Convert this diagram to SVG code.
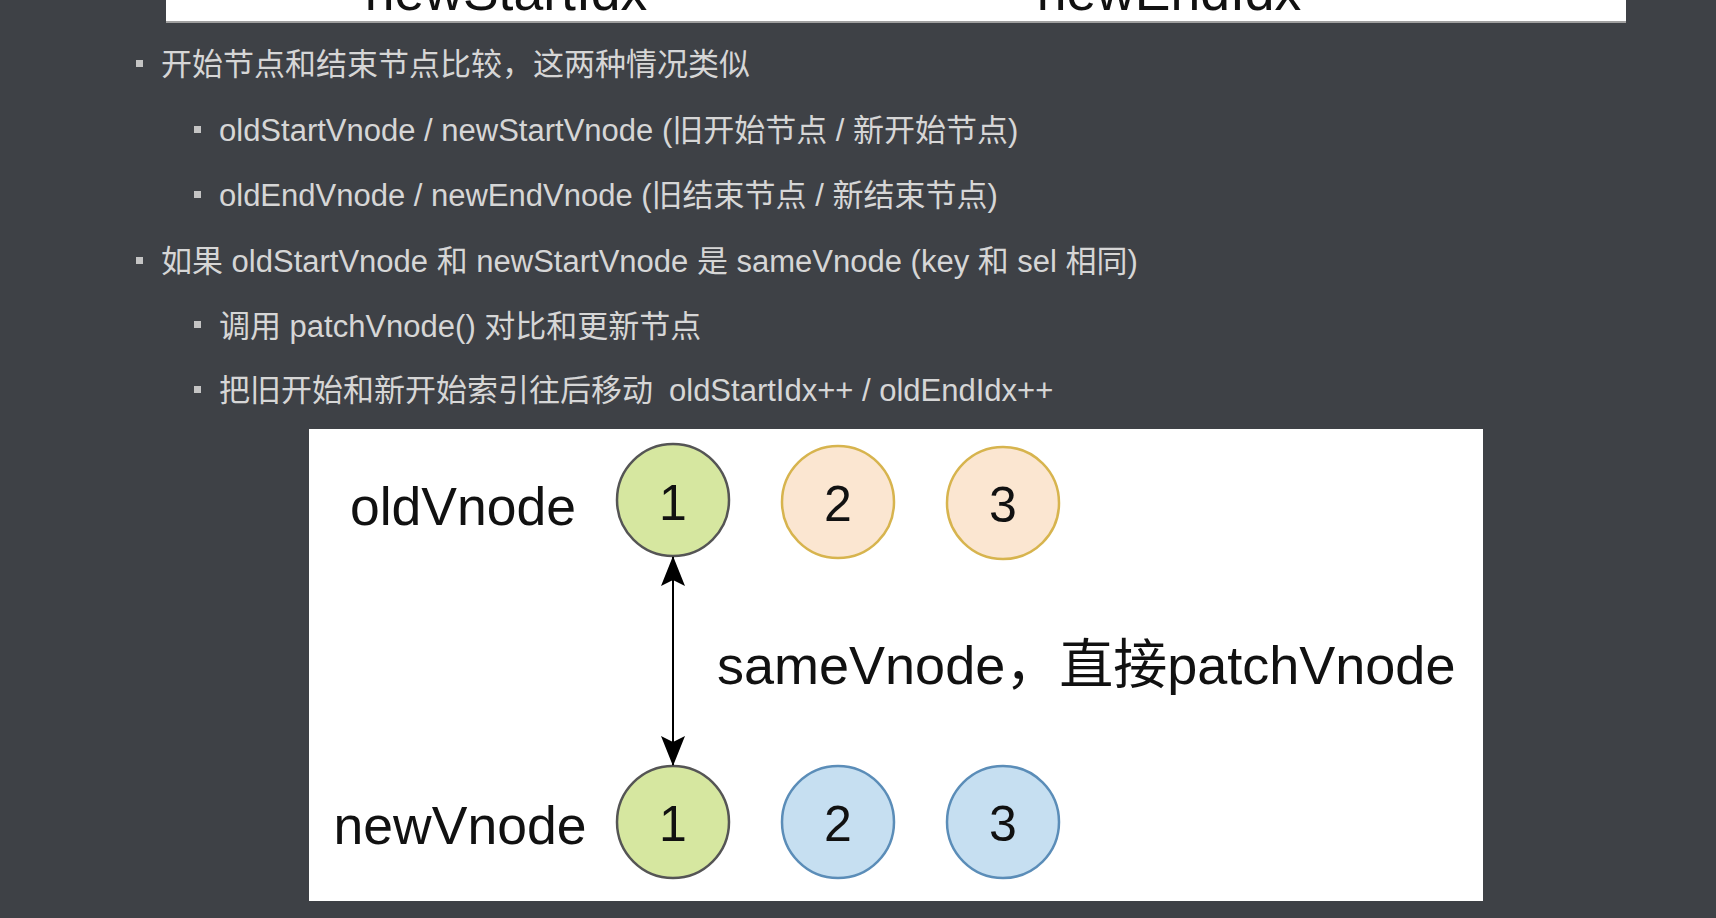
<svg xmlns="http://www.w3.org/2000/svg" width="1716" height="918" viewBox="0 0 1716 918">
<style>
.bul{font-family:"Liberation Sans","Noto Sans CJK SC",sans-serif;font-size:31px;fill:#d6d6d6}
.sq{fill:#c4c4c4}
.lbl{font-family:"Liberation Sans","Noto Sans CJK SC",sans-serif;font-size:53.5px;fill:#111}
.num{font-family:"Liberation Sans",sans-serif;font-size:50px;fill:#111;text-anchor:middle}
.green{fill:#d6e7a0;stroke:#555;stroke-width:2.5}
.peach{fill:#fbe6d1;stroke:#d7b44e;stroke-width:2.5}
.blue{fill:#c6dff1;stroke:#5b8db8;stroke-width:2.5}
</style>
<defs>
<marker id="ah" viewBox="0 0 30 24" refX="29" refY="12" markerWidth="30" markerHeight="24" markerUnits="userSpaceOnUse" orient="auto-start-reverse">
<path d="M0,0 L30,12 L0,24 L6,12 Z" fill="#000"/>
</marker>
</defs>
<rect x="0" y="0" width="1716" height="918" fill="#3e4146"/>
<g id="topbar">
<rect x="166" y="0" width="1460" height="22" fill="#fff"/>
<line x1="166" y1="22" x2="1626" y2="22" stroke="#a0a0a0" stroke-width="2"/>
<text class="lbl" x="506" y="10" text-anchor="middle">newStartIdx</text>
<text class="lbl" x="1169" y="10" text-anchor="middle">newEndIdx</text>
</g>
<g id="bullets">
<rect class="sq" x="136" y="60" width="7" height="7"/>
<text class="bul" x="161" y="75">开始节点和结束节点比较，这两种情况类似</text>
<rect class="sq" x="194" y="126" width="7" height="7"/>
<text class="bul" x="219" y="140.5">oldStartVnode / newStartVnode (旧开始节点 / 新开始节点)</text>
<rect class="sq" x="194" y="191" width="7" height="7"/>
<text class="bul" x="219" y="206">oldEndVnode / newEndVnode (旧结束节点 / 新结束节点)</text>
<rect class="sq" x="136" y="257" width="7" height="7"/>
<text class="bul" x="161" y="272">如果 oldStartVnode 和 newStartVnode 是 sameVnode (key 和 sel 相同)</text>
<rect class="sq" x="194" y="321" width="7" height="7"/>
<text class="bul" x="219" y="336.5">调用 patchVnode() 对比和更新节点</text>
<rect class="sq" x="194" y="386" width="7" height="7"/>
<text class="bul" x="219" y="401">把旧开始和新开始索引往后移动<tspan dx="16">oldStartIdx++ / oldEndIdx++</tspan></text>
</g>
<rect id="panel" x="309" y="429" width="1174" height="472" fill="#fff"/>
<g id="label-old"><text class="lbl" x="463" y="525" text-anchor="middle">oldVnode</text></g>
<g id="label-new"><text class="lbl" x="460" y="844" text-anchor="middle">newVnode</text></g>
<g id="old1"><circle class="green" cx="673" cy="500" r="56"/><text class="num" x="673" y="520">1</text></g>
<g id="old2"><circle class="peach" cx="838" cy="502" r="56"/><text class="num" x="838" y="521">2</text></g>
<g id="old3"><circle class="peach" cx="1003" cy="503" r="56"/><text class="num" x="1003" y="522">3</text></g>
<g id="new1"><circle class="green" cx="673" cy="822" r="56"/><text class="num" x="673" y="841">1</text></g>
<g id="new2"><circle class="blue" cx="838" cy="822" r="56"/><text class="num" x="838" y="841">2</text></g>
<g id="new3"><circle class="blue" cx="1003" cy="822" r="56"/><text class="num" x="1003" y="841">3</text></g>
<g id="connectors">
<line x1="673" y1="557" x2="673" y2="765" stroke="#000" stroke-width="2" marker-start="url(#ah)" marker-end="url(#ah)"/>
<text class="lbl" x="717" y="684" style="font-size:54px">sameVnode，直接patchVnode</text>
</g>
</svg>
